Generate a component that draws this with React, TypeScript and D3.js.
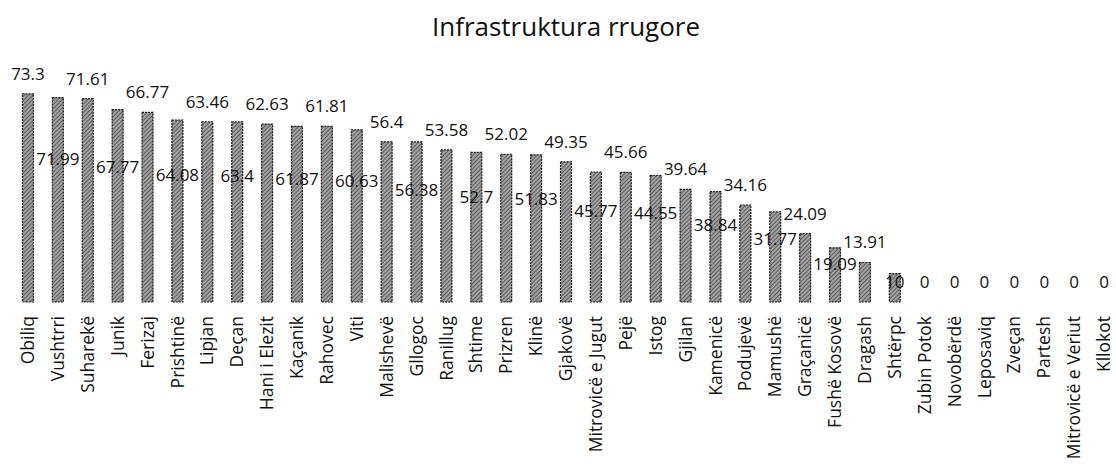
import React, { useRef, useEffect } from "react";
import * as d3 from "d3";

const title = "Infrastruktura rrugore";

const municipalities = [
  "Obiliq", "Vushtrri", "Suharekë", "Junik", "Ferizaj", "Prishtinë", "Lipjan", "Deçan",
  "Hani i Elezit", "Kaçanik", "Rahovec", "Viti", "Malishevë", "Gllogoc", "Ranillug", "Shtime",
  "Prizren", "Klinë", "Gjakovë", "Mitrovicë e Jugut", "Pejë", "Istog", "Gjilan", "Kamenicë",
  "Podujevë", "Mamushë", "Graçanicë", "Fushë Kosovë", "Dragash", "Shtërpc", "Zubin Potok",
  "Novobërdë", "Leposaviq", "Zveçan", "Partesh", "Mitrovicë e Veriut", "Kllokot",
];

const scores = [
  73.3, 71.99, 71.61, 67.77, 66.77, 64.08, 63.46, 63.4,
  62.63, 61.87, 61.81, 60.63, 56.4, 56.38, 53.58, 52.7,
  52.02, 51.83, 49.35, 45.77, 45.66, 44.55, 39.64, 38.84,
  34.16, 31.77, 24.09, 19.09, 13.91, 10, 0,
  0, 0, 0, 0, 0, 0,
];

const FONT = "'Open Sans', sans-serif";

const App = () => {
  const svgRef = useRef(null);

  useEffect(() => {
    document.body.style.margin = "0";
    const width = 1116;
    const height = 470;
    const baseline = 302;

    const data = municipalities.map((name, i) => ({ name, value: scores[i], i }));

    const svg = d3.select(svgRef.current);
    svg.selectAll("*").remove();
    svg.attr("width", width).attr("height", height);

    // hatched fill like the scanned print
    const pattern = svg.append("defs")
      .append("pattern")
      .attr("id", "hatch")
      .attr("patternUnits", "userSpaceOnUse")
      .attr("width", 3)
      .attr("height", 3)
      .attr("patternTransform", "rotate(45)");
    pattern.append("rect").attr("width", 3).attr("height", 3).attr("fill", "#a0a0a0");
    pattern.append("line")
      .attr("x1", 0).attr("y1", 0).attr("x2", 0).attr("y2", 3)
      .attr("stroke", "#3c3c3c").attr("stroke-width", 1.3);

    const x = d3.scaleBand()
      .domain(municipalities)
      .range([13, 1119])
      .paddingInner(0.633)
      .paddingOuter(0.317);

    const y = d3.scaleLinear().domain([0, 80]).range([baseline, baseline - 80 * 2.84]);

    svg.append("text")
      .attr("x", 566)
      .attr("y", 36)
      .attr("text-anchor", "middle")
      .style("font-family", FONT)
      .style("font-size", "26px")
      .attr("fill", "#111")
      .text(title);

    svg.selectAll(".bar")
      .data(data.filter((d) => d.value > 0))
      .enter()
      .append("rect")
      .attr("class", "bar")
      .attr("x", (d) => x(d.name))
      .attr("y", (d) => y(d.value))
      .attr("width", x.bandwidth())
      .attr("height", (d) => baseline - y(d.value))
      .attr("fill", "url(#hatch)")
      .attr("stroke", "#1a1a1a")
      .attr("stroke-width", 1.2)
      .attr("stroke-dasharray", "2,1");

    // value labels: even bars above, odd bars lower down on the bar
    svg.selectAll(".val")
      .data(data)
      .enter()
      .append("text")
      .attr("class", "val")
      .attr("x", (d) => x(d.name) + x.bandwidth() / 2)
      .attr("y", (d) => {
        const top = y(d.value);
        if (d.i % 2 === 0 || d.value === 0) return top - 20;
        return Math.min(top + (baseline - top) * 0.3, baseline - 16);
      })
      .attr("dy", "0.35em")
      .attr("text-anchor", "middle")
      .style("font-family", FONT)
      .style("font-size", "17px")
      .attr("fill", "#111")
      .text((d) => String(d.value));

    svg.selectAll(".cat")
      .data(data)
      .enter()
      .append("text")
      .attr("class", "cat")
      .attr("transform", (d) => `translate(${x(d.name) + x.bandwidth() / 2}, 316) rotate(-90)`)
      .attr("dy", "0.35em")
      .attr("text-anchor", "end")
      .style("font-family", FONT)
      .style("font-size", "17.5px")
      .attr("fill", "#111")
      .text((d) => d.name);
  }, []);

  return (
    <div style={{ background: "#fff" }}>
      <svg ref={svgRef} style={{ display: "block" }}></svg>
    </div>
  );
};

export default App;
